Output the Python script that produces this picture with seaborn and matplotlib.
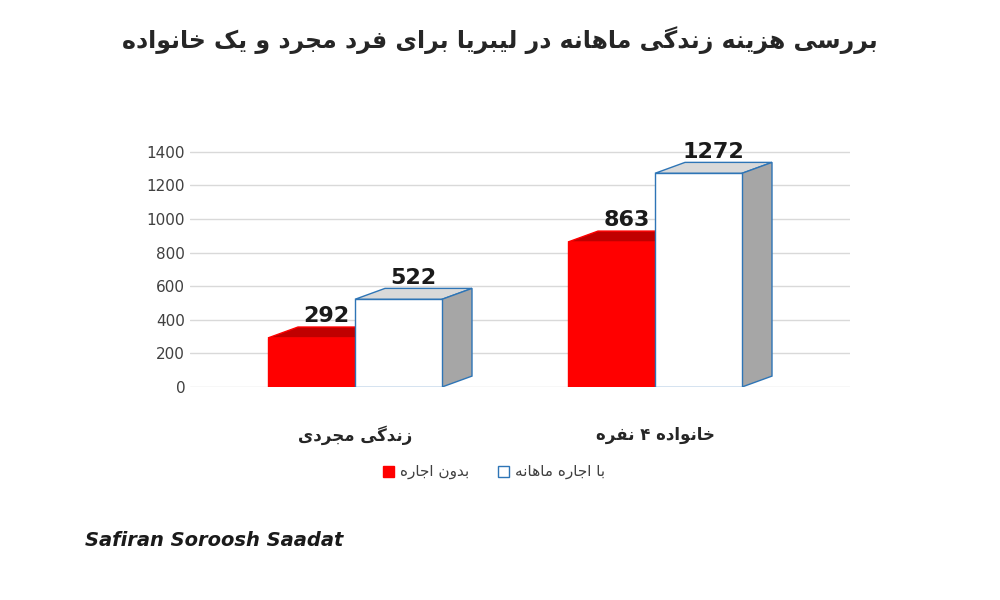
import pandas as pd
import seaborn as sns
import matplotlib.pyplot as plt
from matplotlib.patches import Polygon

categories = ["زندگی مجردی", "خانواده ۴ نفره"]
series = ["بدون اجاره", "با اجاره ماهانه"]
no_rent = [292, 863]
with_rent = [522, 1272]
title = "بررسی هزینه زندگی ماهانه در لیبریا برای فرد مجرد و یک خانواده"

# presentation forms: isolated, final, initial, medial (None -> non-joining)
FORMS = {
    'ا': (0xFE8D, 0xFE8E, None, None), 'ب': (0xFE8F, 0xFE90, 0xFE91, 0xFE92),
    'پ': (0xFB56, 0xFB57, 0xFB58, 0xFB59), 'ت': (0xFE95, 0xFE96, 0xFE97, 0xFE98),
    'ج': (0xFE9D, 0xFE9E, 0xFE9F, 0xFEA0), 'خ': (0xFEA5, 0xFEA6, 0xFEA7, 0xFEA8),
    'د': (0xFEA9, 0xFEAA, None, None), 'ر': (0xFEAD, 0xFEAE, None, None),
    'ز': (0xFEAF, 0xFEB0, None, None), 'س': (0xFEB1, 0xFEB2, 0xFEB3, 0xFEB4),
    'ف': (0xFED1, 0xFED2, 0xFED3, 0xFED4), 'ک': (0xFB8E, 0xFB8F, 0xFB90, 0xFB91),
    'گ': (0xFB92, 0xFB93, 0xFB94, 0xFB95), 'ل': (0xFEDD, 0xFEDE, 0xFEDF, 0xFEE0),
    'م': (0xFEE1, 0xFEE2, 0xFEE3, 0xFEE4), 'ن': (0xFEE5, 0xFEE6, 0xFEE7, 0xFEE8),
    'و': (0xFEED, 0xFEEE, None, None), 'ه': (0xFEE9, 0xFEEA, 0xFEEB, 0xFEEC),
    'ی': (0xFBFC, 0xFBFD, 0xFBFE, 0xFBFF),
}


def fa(text):
    out = []
    for i, c in enumerate(text):
        if c not in FORMS:
            out.append(c)
            continue
        prev = text[i - 1] if i > 0 else ''
        nxt = text[i + 1] if i + 1 < len(text) else ''
        jp = prev in FORMS and FORMS[prev][2] is not None
        jn = nxt in FORMS and FORMS[c][2] is not None
        iso, fin, ini, med = FORMS[c]
        if jp and jn:
            out.append(chr(med))
        elif jp:
            out.append(chr(fin))
        elif jn:
            out.append(chr(ini))
        else:
            out.append(chr(iso))
    return ''.join(reversed(out))


sns.set_style("white")
plt.rcParams['font.family'] = ['DejaVu Sans', 'Noto Sans']

df = pd.DataFrame({
    "cat": categories * 2,
    "series": [series[0]] * 2 + [series[1]] * 2,
    "value": no_rent + with_rent,
})

fig = plt.figure(figsize=(10, 6), dpi=100)
ax = fig.add_axes([0.19, 0.355, 0.66, 0.42])
sns.barplot(data=df, x="cat", y="value", hue="series", ax=ax, saturation=1,
            palette=["#ff0000", "#ffffff"], width=0.58, legend=False)

dx, dy = 0.1, 65
for i, p in enumerate(ax.patches[:4]):
    x0, w, h = p.get_x(), p.get_width(), p.get_height()
    red = i < 2
    if red:
        top_c, side_c = "#c00000", "#b00000"
        ec = "#ff0000"
    else:
        top_c, side_c = "#d9d9d9", "#a6a6a6"
        ec = "#2e75b6"
    p.set_edgecolor(ec)
    z = 3 if red else 4
    p.set_zorder(z)
    ax.add_patch(Polygon([(x0, h), (x0 + dx, h + dy), (x0 + w + dx, h + dy), (x0 + w, h)],
                         closed=True, fc=top_c, ec=ec, lw=1, zorder=z - 0.5))
    ax.add_patch(Polygon([(x0 + w, 0), (x0 + w + dx, dy), (x0 + w + dx, h + dy), (x0 + w, h)],
                         closed=True, fc=side_c, ec=ec, lw=1, zorder=z - 0.5))
    ax.text(x0 + w / 2 + dx / 2, h + dy + 5, f"{int(h)}", ha="center", va="bottom",
            fontsize=16, fontweight="bold", color="#1a1a1a", zorder=10)

ax.set_ylim(0, 1500)
ax.set_xlim(-0.55, 1.65)
ax.set_yticks(range(0, 1401, 200))
ax.tick_params(axis="y", labelsize=11, colors="#404040", length=0)
ax.yaxis.grid(True, color="#d9d9d9", lw=1, zorder=0)
ax.set_axisbelow(True)
ax.set_xticks([0, 1])
ax.set_xticklabels([fa(c) for c in categories], fontsize=12, fontweight="bold", color="#262626")
ax.tick_params(axis="x", length=0, pad=28)
ax.set_xlabel("")
ax.set_ylabel("")
sns.despine(ax=ax, left=True, bottom=True)

fig.text(0.5, 0.92, fa(title), ha="center", fontsize=17, fontweight="bold", color="#262626")

# legend
fig.patches.append(plt.Rectangle((0.383, 0.205), 0.011, 0.018, transform=fig.transFigure,
                                 fc="#ff0000", ec="#ff0000"))
fig.text(0.40, 0.214, fa(series[0]), fontsize=11, va="center", color="#404040")
fig.patches.append(plt.Rectangle((0.498, 0.205), 0.011, 0.018, transform=fig.transFigure,
                                 fc="white", ec="#2e75b6"))
fig.text(0.515, 0.214, fa(series[1]), fontsize=11, va="center", color="#404040")

fig.text(0.085, 0.09, "Safiran Soroosh Saadat", fontsize=14, fontweight="bold",
         fontstyle="italic", color="#1a1a1a")

fig.savefig("out.png")
